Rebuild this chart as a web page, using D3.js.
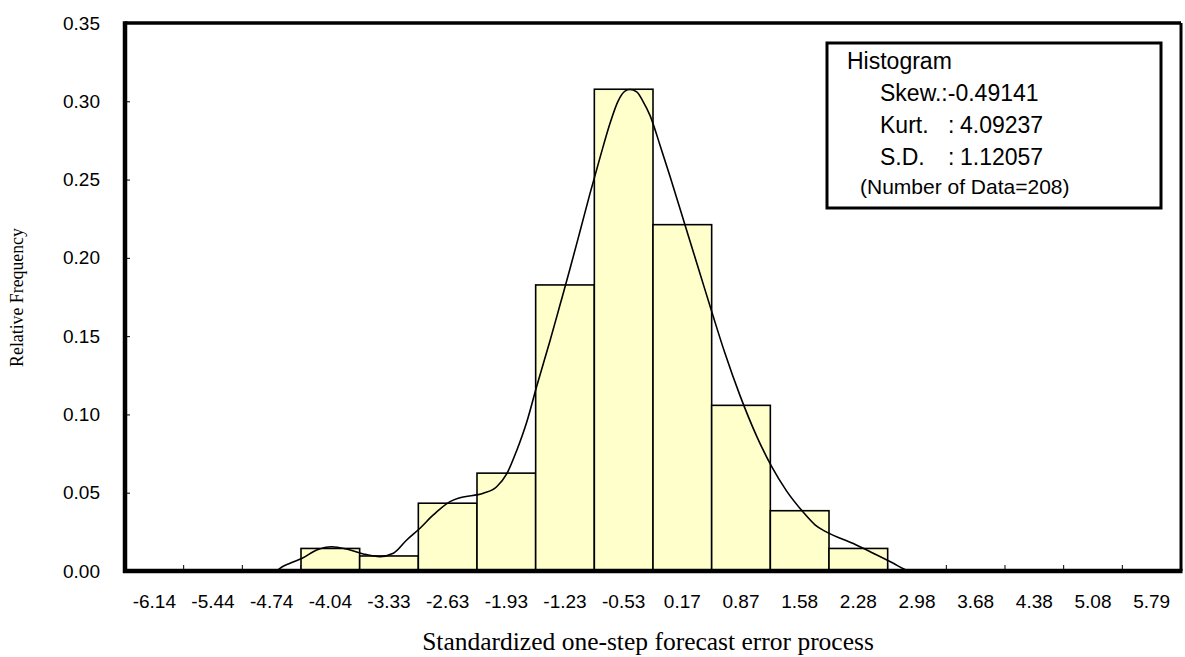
<!DOCTYPE html>
<html>
<head>
<meta charset="utf-8">
<script src="https://cdn.jsdelivr.net/npm/d3@7"></script>
<style>
  body { margin: 0; background: white; }
  svg { display: block; }
  .tickText { font-family: "Liberation Sans", Arial, sans-serif; fill: black; }
</style>
</head>
<body>
<script>
// bin labels (bin centres) and relative frequency of each bin
const binLabels = ["-6.14", "-5.44", "-4.74", "-4.04", "-3.33", "-2.63", "-1.93", "-1.23", "-0.53",
    "0.17", "0.87", "1.58", "2.28", "2.98", "3.68", "4.38", "5.08", "5.79"];
const relFreq = [0, 0, 0, 0.0144, 0.0096, 0.0433, 0.0625, 0.1827, 0.3077,
    0.2212, 0.1058, 0.0385, 0.0144, 0, 0, 0, 0, 0];

// smoothed density curve
const curveX = [-4.673, -4.637, -4.517, -4.377, -4.198, -4.018, -3.839, -3.640, -3.441, -3.281,
    -3.121, -2.962, -2.803, -2.603, -2.484, -2.205, -2.045, -1.925, -1.805, -1.686,
    -1.566, -1.407, -1.287, -1.168, -1.048, -0.929, -0.809, -0.689, -0.594, -0.510,
    -0.450, -0.370, -0.295, -0.211, -0.091, 0.029, 0.208, 0.387, 0.543, 0.686,
    0.866, 1.066, 1.245, 1.424, 1.623, 1.763, 1.903, 2.221, 2.460, 2.700,
    2.839, 2.899];
const curveY = [0, 0.0017, 0.005, 0.008, 0.0134, 0.0155, 0.014, 0.0109, 0.0092, 0.0113,
    0.0198, 0.0273, 0.0358, 0.0443, 0.0468, 0.0496, 0.0538, 0.062, 0.077, 0.095,
    0.118, 0.147, 0.170, 0.193, 0.217, 0.241, 0.264, 0.286, 0.300, 0.3065,
    0.3075, 0.306, 0.300, 0.291, 0.272, 0.252, 0.221, 0.190, 0.163, 0.139,
    0.112, 0.086, 0.0666, 0.051, 0.0375, 0.0295, 0.0248, 0.0175, 0.0113, 0.0049,
    0.001, 0];

const yTicks = [0, 0.05, 0.10, 0.15, 0.20, 0.25, 0.30, 0.35];

const statNames = ["Skew.", "Kurt.", "S.D."];
const statValues = ["-0.49141", "4.09237", "1.12057"];
const nData = 208;

const wSvg = 1185;
const hSvg = 657;
const pLeft = 125, pRight = 1181, pTop = 23, pBottom = 571;

let svg = d3.select("body")
    .append("svg")
    .attr("width", wSvg)
    .attr("height", hSvg)
    .style("background-color", "white");

let xBand = d3.scaleBand(binLabels, [pLeft, pRight]).padding(0);
let bw = xBand.bandwidth();
let yScale = d3.scaleLinear([0, 0.35], [pBottom, pTop]);
let xLin = d3.scaleLinear([+binLabels[0], +binLabels[binLabels.length - 1]],
    [xBand(binLabels[0]) + bw / 2, xBand(binLabels[binLabels.length - 1]) + bw / 2]);

// small ticks on the band boundaries
svg.append("g")
    .selectAll("line")
    .data(binLabels.slice(1))
    .enter()
    .append("line")
    .attr("x1", d => xBand(d))
    .attr("x2", d => xBand(d))
    .attr("y1", pBottom)
    .attr("y2", pBottom - 6)
    .attr("stroke", "black")
    .attr("stroke-width", 1);

// bars
let bins = binLabels.map((b, i) => ({ label: b, value: relFreq[i] })).filter(d => d.value > 0);
svg.append("g")
    .selectAll("rect")
    .data(bins)
    .enter()
    .append("rect")
    .attr("x", d => xBand(d.label))
    .attr("y", d => yScale(d.value))
    .attr("width", bw)
    .attr("height", d => pBottom - yScale(d.value))
    .attr("fill", "#FFFFCC")
    .attr("stroke", "black")
    .attr("stroke-width", 1.6);

// density curve
const dMaker = d3.line()
    .x(d => xLin(d[0]))
    .y(d => yScale(d[1]))
    .curve(d3.curveMonotoneX);

svg.append("path")
    .attr("d", dMaker(curveX.map((x, i) => [x, curveY[i]])))
    .attr("fill", "none")
    .attr("stroke", "black")
    .attr("stroke-width", 1.6);

// y axis
let yAxis = d3.axisLeft(yScale)
    .tickValues(yTicks)
    .tickFormat(d3.format(".2f"))
    .tickSizeInner(-5)
    .tickSizeOuter(0)
    .tickPadding(25);
let gy = svg.append("g")
    .attr("transform", `translate(${pLeft}, 0)`)
    .call(yAxis);
gy.selectAll("text").attr("class", "tickText").style("font-size", "19px");
gy.select(".domain").remove();

// x axis labels
let xAxis = d3.axisBottom(xBand).tickSize(0).tickPadding(24);
let gx = svg.append("g")
    .attr("transform", `translate(0, ${pBottom})`)
    .call(xAxis);
gx.selectAll("text").attr("class", "tickText").style("font-size", "19px");
gx.select(".domain").remove();

// frame
svg.append("line").attr("x1", pLeft).attr("x2", pRight).attr("y1", pTop).attr("y2", pTop)
    .attr("stroke", "black").attr("stroke-width", 3.5);
svg.append("line").attr("x1", pRight).attr("x2", pRight).attr("y1", pTop).attr("y2", pBottom)
    .attr("stroke", "black").attr("stroke-width", 3);
svg.append("line").attr("x1", pLeft).attr("x2", pLeft).attr("y1", pTop - 1.75).attr("y2", pBottom + 2)
    .attr("stroke", "black").attr("stroke-width", 4.5);
svg.append("line").attr("x1", pLeft - 2).attr("x2", pRight + 1.5).attr("y1", pBottom).attr("y2", pBottom)
    .attr("stroke", "black").attr("stroke-width", 4.5);

// axis titles
svg.append("text")
    .attr("x", 648)
    .attr("y", 650)
    .attr("text-anchor", "middle")
    .style("font-family", "'Liberation Serif', 'Times New Roman', serif")
    .style("font-size", "25.5px")
    .text("Standardized one-step forecast error process");

svg.append("text")
    .attr("transform", "translate(23, 297.5) rotate(-90)")
    .attr("text-anchor", "middle")
    .style("font-family", "'Liberation Serif', 'Times New Roman', serif")
    .style("font-size", "17.8px")
    .text("Relative Frequency");

// legend box
let legend = svg.append("g");
legend.append("rect")
    .attr("x", 827)
    .attr("y", 43)
    .attr("width", 334)
    .attr("height", 165)
    .attr("fill", "white")
    .attr("stroke", "black")
    .attr("stroke-width", 3);

legend.append("text")
    .attr("class", "tickText")
    .attr("x", 847)
    .attr("y", 69)
    .style("font-size", "23px")
    .text("Histogram");

// Skew. line is written tight, the others have the colon further right
legend.append("text").attr("class", "tickText").attr("x", 880).attr("y", 101)
    .style("font-size", "23px").text(`${statNames[0]}:${statValues[0]}`);
[1, 2].forEach(i => {
    let yy = 101 + i * 32;
    legend.append("text").attr("class", "tickText").attr("x", 880).attr("y", yy)
        .style("font-size", "23px").text(statNames[i]);
    legend.append("text").attr("class", "tickText").attr("x", 948).attr("y", yy)
        .style("font-size", "23px").text(":");
    legend.append("text").attr("class", "tickText").attr("x", 960).attr("y", yy)
        .style("font-size", "23px").text(statValues[i]);
});

legend.append("text")
    .attr("class", "tickText")
    .attr("x", 860)
    .attr("y", 194)
    .style("font-size", "21px")
    .text(`(Number of Data=${nData})`);
</script>
</body>
</html>
